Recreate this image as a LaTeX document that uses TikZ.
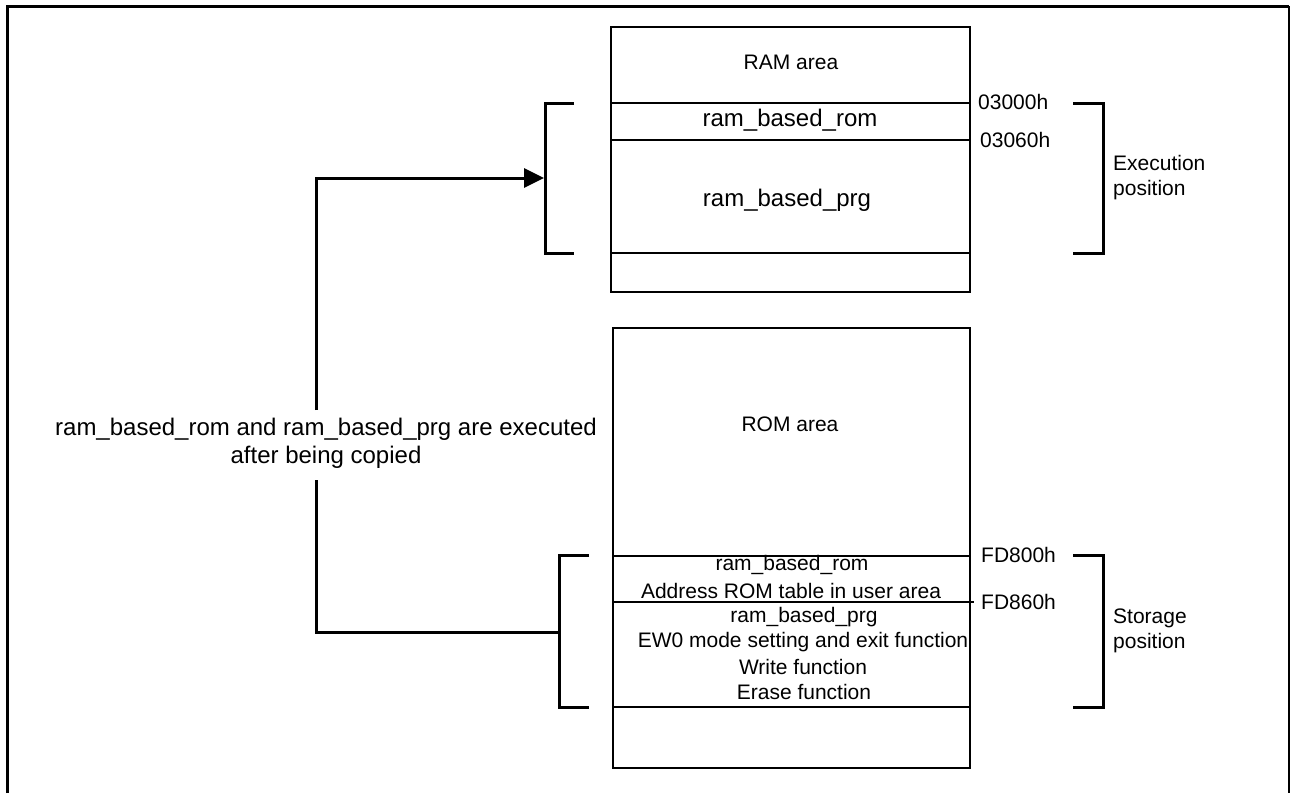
\documentclass[tikz,border=0pt]{standalone}
\usepackage{fontspec}
\setmainfont{Liberation Sans}
\usetikzlibrary{arrows.meta}
\begin{document}
\begin{tikzpicture}[x=1pt,y=-1pt,
  box/.style={line width=1.5pt},
  brk/.style={line width=3pt},
  conn/.style={line width=3pt},
  lbl/.style={font=\fontsize{21}{25}\selectfont, inner sep=0pt},
  big/.style={font=\fontsize{24}{28}\selectfont, inner sep=0pt},
]
\useasboundingbox (0,0) rectangle (1291,793);
% frame
\draw[line width=3pt] (7,793) -- (7,6) -- (1289,6);
\draw[line width=1.5pt] (1289,6) -- (1289,793);

% RAM box
\draw[box] (611,27) rectangle (970,292);
\draw[box] (611,103) -- (970,103);
\draw[box] (611,140) -- (970,140);
\draw[box] (611,253) -- (970,253);
\node[lbl] (ramarea) at (791,62) {RAM area};
\node[big] (rbr) at (790,120) {ram\_based\_rom};
\node[big] (rbp) at (787,200) {ram\_based\_prg};
\node[lbl,anchor=west] (a1) at (978,102) {03000h};
\node[lbl,anchor=west] (a2) at (980,140) {03060h};
\node[lbl,anchor=west,align=left] (exe) at (1113,178) {Execution\\position};

% ROM box
\draw[box] (613,328) rectangle (970,768);
\draw[box] (613,556) -- (970,556);
\draw[box] (613,602) -- (974,602);
\draw[box] (613,707) -- (970,707);
\node[lbl] (romarea) at (790,424) {ROM area};
\node[lbl] (s1) at (792,565) {ram\_based\_rom};
\node[lbl] (s2) at (791,591) {Address ROM table in user area};
\node[lbl] (s3) at (804,617) {ram\_based\_prg};
\node[lbl] (s4) at (803,642) {EW0 mode setting and exit function};
\node[lbl] (s5) at (803,667) {Write function};
\node[lbl] (s6) at (804,692) {Erase function};
\node[lbl,anchor=west] (a3) at (981,555) {FD800h};
\node[lbl,anchor=west] (a4) at (981,602) {FD860h};
\node[lbl,anchor=west,align=left] (sto) at (1113,631) {Storage\\position};

% brackets
\draw[brk] (574,103) -- (545,103) -- (545,253) -- (574,253);
\draw[brk] (1073,103) -- (1103,103) -- (1103,253) -- (1073,253);
\draw[brk] (589,555) -- (559,555) -- (559,707) -- (589,707);
\draw[brk] (1073,555) -- (1103,555) -- (1103,707) -- (1073,707);

% annotation and connectors
\node[big,align=center] (ann) at (326,443) {ram\_based\_rom and ram\_based\_prg are executed\\after being copied};
\coordinate (ramtgt) at (544,178);
\coordinate (romsrc) at (559,632);
\coordinate (up) at (316,410);
\coordinate (dn) at (316,480);
\draw[conn,-{Triangle[length=20pt,width=19pt]}] (up) |- (ramtgt);
\draw[conn] (dn) |- (romsrc);
\end{tikzpicture}
\end{document}
